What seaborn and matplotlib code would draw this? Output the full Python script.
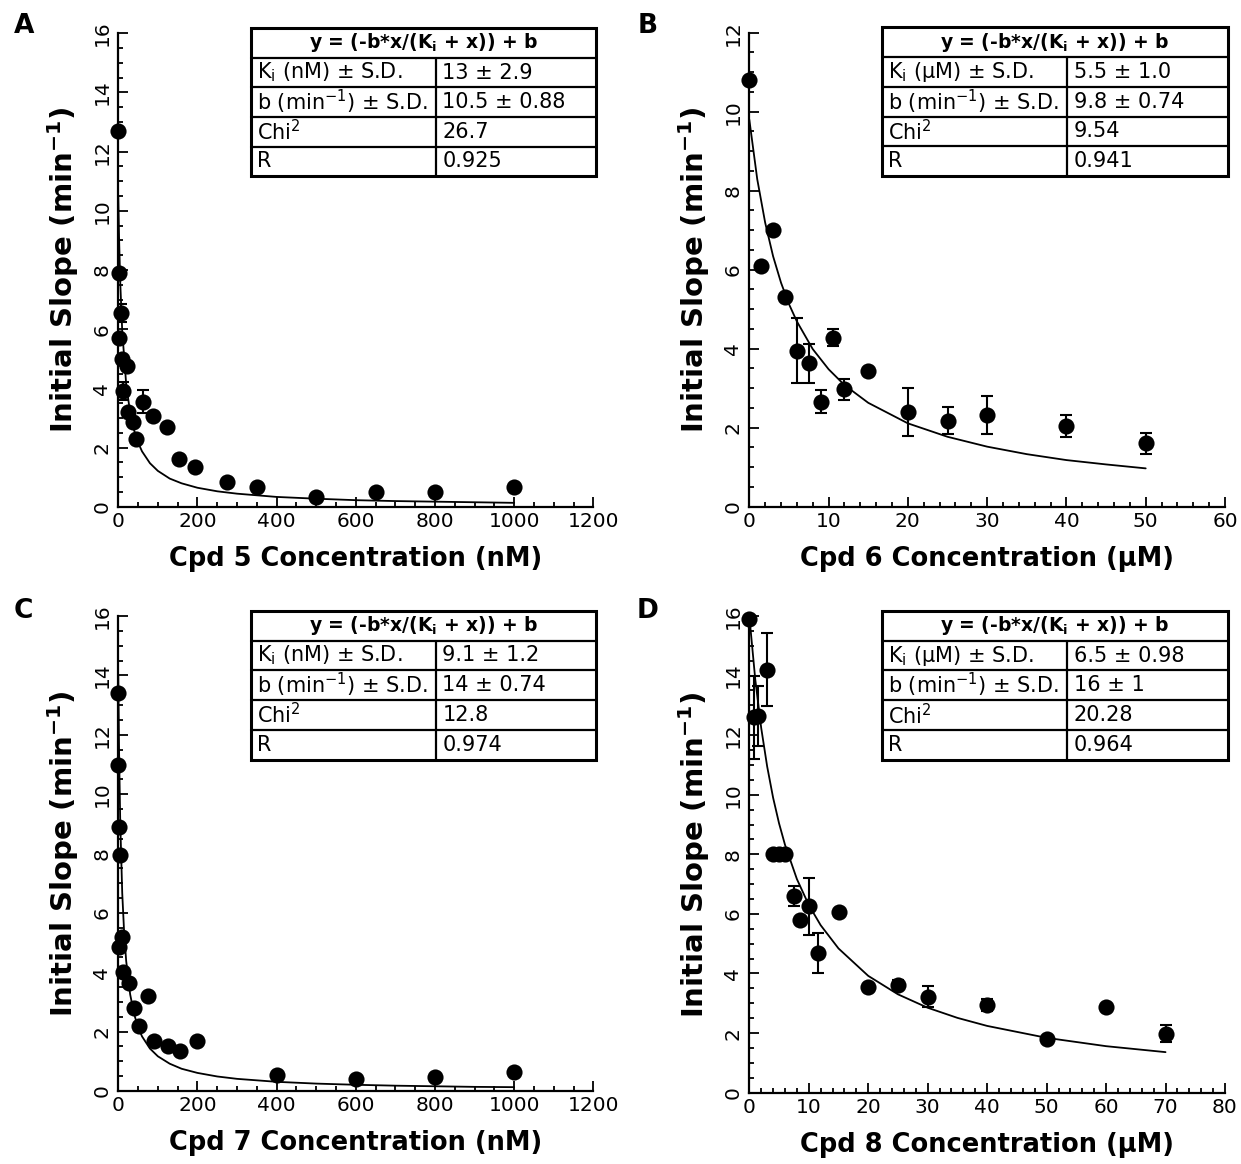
import matplotlib
matplotlib.use("Agg")
import matplotlib.pyplot as plt
import matplotlib.ticker as mticker
from matplotlib.patches import Rectangle
import seaborn as sns

sns.set_style("ticks")
plt.rcParams["font.family"] = ["DejaVu Sans"]
plt.rcParams.update({
    "mathtext.default": "regular",
    "text.color": "black",
    "axes.labelcolor": "black",
    "xtick.color": "black",
    "ytick.color": "black",
})

# ---------------------------------------------------------------------------
# data
# ---------------------------------------------------------------------------
# A - Cpd 5 (nM)
xA = [0, 1, 2, 6, 8.5, 12.5, 21, 25, 37.5, 46, 63, 88, 124, 153, 195, 275, 350, 500, 650, 800, 1000]
yA = [12.7, 7.9, 5.7, 6.55, 5.0, 3.9, 4.75, 3.2, 2.85, 2.3, 3.55, 3.05, 2.7, 1.6, 1.35, 0.82, 0.65, 0.32, 0.5, 0.5, 0.66]
eA = [0, 0, 0, 0.3, 0, 0.3, 0, 0, 0, 0, 0.4, 0, 0, 0, 0, 0, 0, 0, 0, 0, 0]
fitxA = [0, 2, 5, 10, 20, 30, 40, 50, 60, 80, 100, 130, 160, 200, 250, 300, 400, 500, 600, 700, 800, 900, 1000]
fityA = [10.5, 9.1, 7.58, 5.93, 4.14, 3.17, 2.58, 2.17, 1.87, 1.47, 1.21, 0.95, 0.79, 0.64, 0.52, 0.44, 0.33, 0.27, 0.22, 0.19, 0.17, 0.15, 0.13]

# B - Cpd 6 (uM)
xB = [0, 1.5, 3, 4.5, 6, 7.5, 9, 10.5, 12, 15, 20, 25, 30, 40, 50]
yB = [10.8, 6.1, 7.0, 5.3, 3.95, 3.63, 2.66, 4.28, 2.97, 3.44, 2.39, 2.18, 2.32, 2.05, 1.6]
eB = [0, 0, 0, 0, 0.82, 0.5, 0.3, 0.22, 0.27, 0, 0.61, 0.34, 0.47, 0.28, 0.27]
fitxB = [0, 1, 2, 3, 4, 5, 6, 8, 10, 12, 15, 20, 25, 30, 35, 40, 45, 50]
fityB = [9.8, 8.29, 7.19, 6.34, 5.67, 5.13, 4.69, 3.99, 3.48, 3.08, 2.63, 2.11, 1.77, 1.52, 1.33, 1.18, 1.07, 0.97]

# C - Cpd 7 (nM)
xC = [0, 0.5, 1, 2, 5, 10, 12.5, 27, 40, 52, 75, 90, 125, 155, 200, 400, 600, 800, 1000]
yC = [13.4, 11.0, 8.9, 4.85, 7.95, 5.2, 4.0, 3.65, 2.8, 2.2, 3.2, 1.7, 1.52, 1.36, 1.7, 0.55, 0.4, 0.47, 0.64]
eC = [0] * len(xC)
fitxC = [0, 2, 5, 10, 15, 20, 30, 40, 50, 60, 80, 100, 130, 160, 200, 250, 300, 400, 500, 600, 700, 800, 900, 1000]
fityC = [14.0, 11.48, 9.04, 6.67, 5.29, 4.38, 3.26, 2.59, 2.16, 1.84, 1.43, 1.17, 0.92, 0.75, 0.61, 0.49, 0.41, 0.31, 0.25, 0.21, 0.18, 0.16, 0.14, 0.13]

# D - Cpd 8 (uM)
xD = [0, 0.8, 1.5, 3, 4, 5, 6, 7.5, 8.5, 10, 11.5, 15, 20, 25, 30, 40, 50, 60, 70]
yD = [15.9, 12.6, 12.65, 14.2, 8.0, 8.0, 8.0, 6.6, 5.8, 6.25, 4.7, 6.05, 3.56, 3.62, 3.22, 2.95, 1.8, 2.87, 1.98]
eD = [0, 1.4, 1.0, 1.23, 0, 0, 0, 0.35, 0, 0.96, 0.67, 0, 0, 0.15, 0.35, 0.2, 0, 0, 0.28]
fitxD = [0, 1, 2, 3, 4, 5, 6, 8, 10, 12, 15, 20, 25, 30, 35, 40, 50, 60, 70]
fityD = [16.0, 13.87, 12.24, 10.95, 9.9, 9.04, 8.32, 7.17, 6.3, 5.62, 4.84, 3.92, 3.3, 2.85, 2.51, 2.24, 1.84, 1.56, 1.36]

# fit tables
tabA = ["13 ± 2.9", "10.5 ± 0.88", "26.7", "0.925"]
tabB = ["5.5 ± 1.0", "9.8 ± 0.74", "9.54", "0.941"]
tabC = ["9.1 ± 1.2", "14 ± 0.74", "12.8", "0.974"]
tabD = ["6.5 ± 0.98", "16 ± 1", "20.28", "0.964"]

panels = [
    dict(letter="A", x=xA, y=yA, e=eA, fx=fitxA, fy=fityA, tab=tabA, unit="nM", cpd="5",
         xlim=1200, xmaj=200, xmin=50, ylim=16, rect=[0.0953, 0.5647, 0.3828, 0.4067]),
    dict(letter="B", x=xB, y=yB, e=eB, fx=fitxB, fy=fityB, tab=tabB, unit="μM", cpd="6",
         xlim=60, xmaj=10, xmin=2, ylim=12, rect=[0.6038, 0.5647, 0.3833, 0.4072]),
    dict(letter="C", x=xC, y=yC, e=eC, fx=fitxC, fy=fityC, tab=tabC, unit="nM", cpd="7",
         xlim=1200, xmaj=200, xmin=50, ylim=16, rect=[0.0953, 0.0627, 0.3828, 0.4080]),
    dict(letter="D", x=xD, y=yD, e=eD, fx=fitxD, fy=fityD, tab=tabD, unit="μM", cpd="8",
         xlim=80, xmaj=10, xmin=2, ylim=16, rect=[0.6038, 0.0613, 0.3833, 0.4095]),
]


def draw_table(ax, unit, vals):
    x0, xs, x1 = 0.279, 0.668, 1.006
    top, bot = 1.011, 0.698
    rh = (top - bot) / 5
    kw = dict(transform=ax.transAxes, clip_on=False, zorder=5)
    ax.add_patch(Rectangle((x0, bot), x1 - x0, top - bot, fill=True, fc="white",
                           ec="black", lw=2.2, **kw))
    for i in range(1, 5):
        yy = top - i * rh
        ax.plot([x0, x1], [yy, yy], color="black", lw=1.6, **kw)
    ax.plot([xs, xs], [bot, top - rh], color="black", lw=1.6, **kw)
    tkw = dict(transform=ax.transAxes, va="center", zorder=6)
    ax.text((x0 + x1) / 2, top - rh / 2, r"y = (-b*x/(K$_\mathregular{i}$ + x)) + b",
            ha="center", fontweight="bold", fontsize=13.5, **tkw)
    names = [r"K$_\mathregular{i}$ (" + unit + ") ± S.D.",
             r"b (min$^{\mathregular{-1}}$) ± S.D.",
             r"Chi$^\mathregular{2}$", "R"]
    for i, (n, v) in enumerate(zip(names, vals)):
        yc = top - (i + 1.5) * rh
        ax.text(x0 + 0.012, yc, n, ha="left", fontsize=15, **tkw)
        ax.text(xs + 0.014, yc, v, ha="left", fontsize=15, **tkw)


fig = plt.figure(figsize=(12.41, 11.64), dpi=100)

for p in panels:
    ax = fig.add_axes(p["rect"])
    sns.lineplot(x=p["fx"], y=p["fy"], ax=ax, color="black", lw=1.3, zorder=2)
    err_x = [xx for xx, ee in zip(p["x"], p["e"]) if ee > 0]
    err_y = [yy for yy, ee in zip(p["y"], p["e"]) if ee > 0]
    err_e = [ee for ee in p["e"] if ee > 0]
    if err_e:
        ax.errorbar(err_x, err_y, yerr=err_e, fmt="none", ecolor="black",
                    elinewidth=1.5, capsize=4.5, capthick=1.5, zorder=3)
    sns.scatterplot(x=p["x"], y=p["y"], ax=ax, color="black", s=135,
                    edgecolor="black", linewidth=0, zorder=4, clip_on=False)

    ax.set_xlim(0, p["xlim"])
    ax.set_ylim(0, p["ylim"])
    ax.xaxis.set_major_locator(mticker.MultipleLocator(p["xmaj"]))
    ax.xaxis.set_minor_locator(mticker.MultipleLocator(p["xmin"]))
    ax.yaxis.set_major_locator(mticker.MultipleLocator(2))
    ax.yaxis.set_minor_locator(mticker.MultipleLocator(0.5))
    ax.tick_params(which="both", direction="in", width=1.3, colors="black", labelsize=14.5)
    ax.tick_params(which="major", length=7)
    ax.tick_params(which="minor", length=3.5)
    ax.tick_params(axis="y", labelrotation=90, pad=5)
    for lab in ax.get_yticklabels():
        lab.set_va("center")
    for s in ["top", "right"]:
        ax.spines[s].set_visible(False)
    for s in ["left", "bottom"]:
        ax.spines[s].set_linewidth(1.6)
        ax.spines[s].set_color("black")

    ax.set_xlabel(f"Cpd {p['cpd']} Concentration ({p['unit']})", fontsize=18.5,
                  fontweight="bold", labelpad=11)
    ax.set_ylabel(r"Initial Slope (min$^{\mathregular{-1}}$)", fontsize=21,
                  fontweight="bold", labelpad=8)

    draw_table(ax, p["unit"], p["tab"])

    lx = 0.019 if p["letter"] in "AC" else 0.522
    ly = 0.978 if p["letter"] in "AB" else 0.475
    fig.text(lx, ly, p["letter"], fontsize=19, fontweight="bold", ha="center", va="center")

fig.savefig("out.png", dpi=100)
